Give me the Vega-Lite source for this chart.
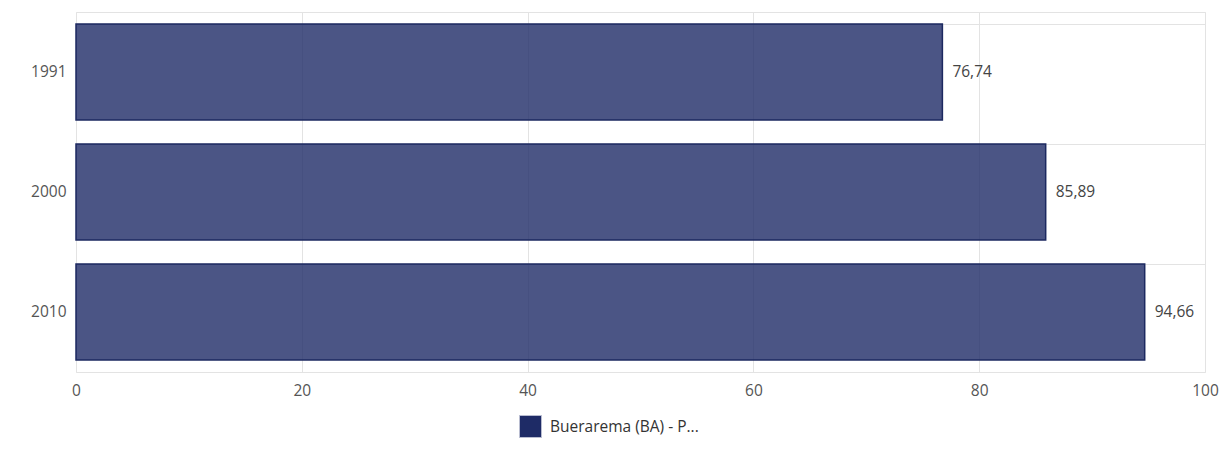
{
  "$schema": "https://vega.github.io/schema/vega-lite/v6.json",
  "width": 1129,
  "height": 360,
  "autosize": "none",
  "padding": {"left": 76, "top": 12, "right": 14, "bottom": 80},
  "background": "white",
  "config": {
    "locale": {
      "number": {"decimal": ",", "thousands": ".", "grouping": [3], "currency": ["R$", ""]}
    },
    "view": {"stroke": "#e3e3e3", "strokeWidth": 1},
    "font": "Open Sans",
    "axis": {
      "labelFont": "Open Sans",
      "labelFontSize": 15.5,
      "labelColor": "#555555",
      "gridColor": "#e3e3e3",
      "gridWidth": 1,
      "domain": false,
      "ticks": false,
      "labelFlush": false,
      "title": null
    }
  },
  "data": {
    "values": [
      {"ano": "1991", "valor": 76.74, "serie": "Buerarema (BA) - P..."},
      {"ano": "2000", "valor": 85.89, "serie": "Buerarema (BA) - P..."},
      {"ano": "2010", "valor": 94.66, "serie": "Buerarema (BA) - P..."}
    ]
  },
  "encoding": {
    "y": {
      "field": "ano",
      "type": "nominal",
      "sort": ["1991", "2000", "2010"],
      "scale": {"paddingInner": 0.2, "paddingOuter": 0.1},
      "axis": {"grid": true, "bandPosition": 0, "labelPadding": 10, "labelBaseline": "middle"}
    },
    "x": {
      "field": "valor",
      "type": "quantitative",
      "scale": {"domain": [0, 100], "nice": false},
      "axis": {"values": [0, 20, 40, 60, 80, 100], "grid": true, "labelPadding": 11, "format": "d"}
    }
  },
  "layer": [
    {
      "mark": {"type": "bar", "fillOpacity": 0.8, "stroke": "#1c2960", "strokeWidth": 1.5},
      "encoding": {
        "color": {
          "field": "serie",
          "type": "nominal",
          "scale": {"range": ["#1e2b66"]},
          "legend": {
            "title": null,
            "orient": "none",
            "legendX": 443,
            "legendY": 403,
            "symbolType": "square",
            "symbolSize": 484,
            "symbolFillColor": "#1e2b66",
            "symbolStrokeColor": "#b8bcd0",
            "symbolStrokeWidth": 1,
            "symbolOpacity": 1,
            "labelFont": "Open Sans",
            "labelFontSize": 15.5,
            "labelColor": "#333333",
            "labelOffset": 8,
            "labelLimit": 300
          }
        }
      }
    },
    {
      "mark": {"type": "text", "align": "left", "baseline": "middle", "dx": 10, "fontSize": 15.5, "font": "Open Sans", "color": "#444444"},
      "encoding": {
        "text": {"field": "valor", "type": "quantitative", "format": ".2f"}
      }
    }
  ]
}
